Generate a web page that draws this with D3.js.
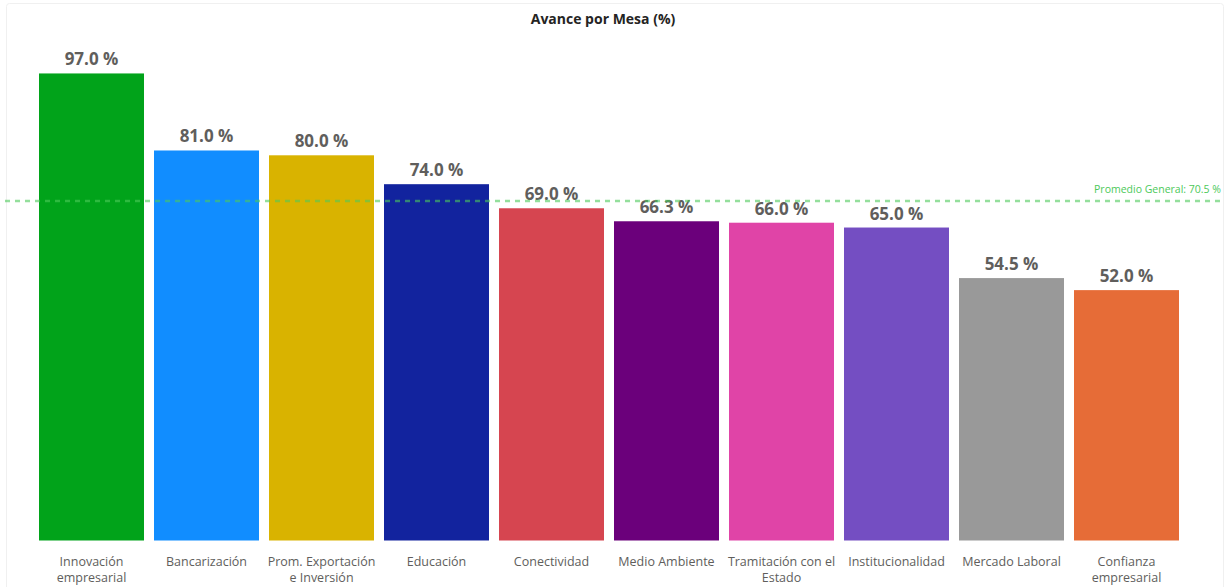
<!DOCTYPE html>
<meta charset="utf-8">
<script src="https://d3js.org/d3.v7.min.js"></script>
<style>
  body { margin: 0; background: #fff; }
  text { font-family: "Open Sans", "Noto Sans", sans-serif; }
</style>
<div id="chart"></div>
<script>
// data
const categories = ["Innovación\nempresarial", "Bancarización", "Prom. Exportación\ne Inversión", "Educación",
  "Conectividad", "Medio Ambiente", "Tramitación con el\nEstado", "Institucionalidad", "Mercado Laboral", "Confianza\nempresarial"];
const values = [97.0, 81.0, 80.0, 74.0, 69.0, 66.3, 66.0, 65.0, 54.5, 52.0];
const colors = ["#01A31A", "#118DFF", "#D9B300", "#12239E", "#D64550", "#6B007B", "#E044A7", "#744EC2", "#999999", "#E66C37"];
const average = 70.5;

const W = 1225, H = 587;
const svg = d3.select("#chart").append("svg")
  .attr("width", W).attr("height", H);

// faint panel border
svg.append("rect")
  .attr("x", 6.5).attr("y", 3.5).attr("width", W - 8).attr("height", H)
  .attr("rx", 3).attr("fill", "none").attr("stroke", "#f0f0f0");

const x = d3.scaleBand()
  .domain(categories)
  .range([34, 1184])
  .paddingInner(0.087)
  .paddingOuter(0.0435);

const y = d3.scaleLinear()
  .domain([0, 100])
  .range([540.5, 59]);

// title
svg.append("text")
  .attr("x", 603).attr("y", 24)
  .attr("text-anchor", "middle")
  .style("font-size", "14px").style("font-weight", "bold").style("fill", "#252423")
  .text("Avance por Mesa (%)");

// bars
svg.append("g").selectAll("rect")
  .data(values)
  .join("rect")
    .attr("x", (d, i) => x(categories[i]))
    .attr("y", d => y(d))
    .attr("width", x.bandwidth())
    .attr("height", d => y(0) - y(d))
    .attr("fill", (d, i) => colors[i]);

// value labels
svg.append("g").selectAll("text")
  .data(values)
  .join("text")
    .attr("x", (d, i) => x(categories[i]) + x.bandwidth() / 2)
    .attr("y", d => y(d) - 8)
    .attr("text-anchor", "middle")
    .style("font-size", "17px").style("font-weight", "bold").style("fill", "#605E5C")
    .text(d => d.toFixed(1) + " %");

// average line (semi transparent, over the bars)
svg.append("line")
  .attr("x1", 5).attr("x2", W)
  .attr("y1", y(average)).attr("y2", y(average))
  .style("stroke", "#4CC95A").style("stroke-width", 2.5)
  .style("stroke-opacity", 0.6)
  .style("stroke-dasharray", "5,5");

svg.append("text")
  .attr("x", 1221).attr("y", y(average) - 8)
  .attr("text-anchor", "end")
  .style("font-size", "10.5px").style("fill", "#4CC95A")
  .text("Promedio General: " + average.toFixed(1) + " %");

// category axis labels
const xAxis = svg.append("g")
  .attr("transform", `translate(0, ${y(0)})`)
  .call(d3.axisBottom(x).tickSize(0).tickPadding(0));
xAxis.select(".domain").remove();
xAxis.selectAll(".tick text").remove();
xAxis.selectAll(".tick").append("text")
  .attr("text-anchor", "middle")
  .style("font-size", "12.5px").style("fill", "#605E5C")
  .selectAll("tspan")
  .data(d => d.split("\n"))
  .join("tspan")
    .attr("x", 0)
    .attr("y", (d, i) => 25 + i * 16.5)
    .text(d => d);
</script>
